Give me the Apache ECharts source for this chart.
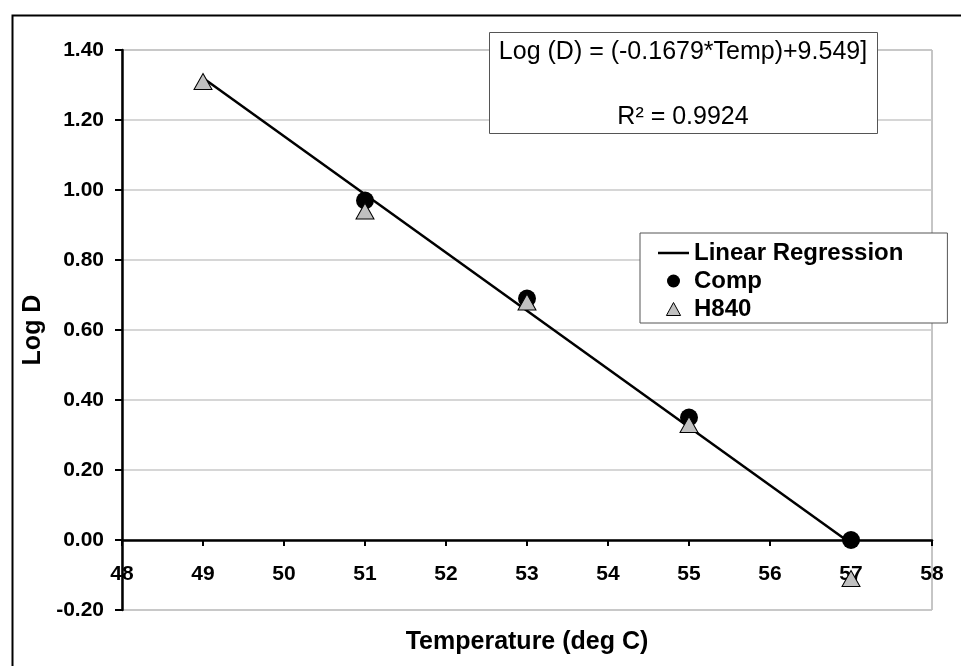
<!DOCTYPE html>
<html>
<head>
<meta charset="utf-8">
<script src="https://cdn.jsdelivr.net/npm/echarts@6/dist/echarts.min.js"></script>
<style>
html,body{margin:0;padding:0;background:#fff;}
#chart{width:961px;height:666px;}
</style>
</head>
<body>
<div id="chart"></div>
<script>
// ---- data ----
var regressionX = [49, 57];
var regressionY = [1.32, -0.01];
var compX = [51, 53, 55, 57];
var compY = [0.97, 0.69, 0.35, 0.00];
var h840X = [49, 51, 53, 55, 57];
var h840Y = [1.31, 0.94, 0.68, 0.33, -0.11];
var xMin = 48, xMax = 58, xStep = 1;
var yMin = -0.2, yMax = 1.4, yStep = 0.2;
var equationText = 'Log (D) = (-0.1679*Temp)+9.549]';
var r2Text = 'R² = 0.9924';
var xTitle = 'Temperature (deg C)';
var yTitle = 'Log D';
var seriesNames = ['Linear Regression', 'Comp', 'H840'];

function pairs(xs, ys){ return xs.map(function(x,i){ return [x, ys[i]]; }); }

var FONT = '"Liberation Sans", Arial, sans-serif';
var GRID_TOP = 50, GRID_BOTTOM = 56, H = 666;
var plotH = H - GRID_TOP - GRID_BOTTOM;
// offset that places the x axis (line, ticks, labels, name) at y = 0
var zeroOffset = -plotH * (0 - yMin) / (yMax - yMin);

var chart = echarts.init(document.getElementById('chart'));
chart.setOption({
  backgroundColor: '#fff',
  animation: false,
  grid: {left:122, right:29, top:GRID_TOP, bottom:GRID_BOTTOM, outerBoundsMode:'none', containLabel:false,
         show:true, borderColor:'#8c8c8c', borderWidth:1, backgroundColor:'#fff'},
  xAxis: {
    type:'value', min:xMin, max:xMax, interval:xStep,
    offset: zeroOffset,
    axisLine:{onZero:false, lineStyle:{color:'#000', width:2.5}},
    axisTick:{show:true, length:6, lineStyle:{color:'#000', width:2}},
    axisLabel:{margin:24, color:'#000', fontFamily:FONT, fontWeight:'bold', fontSize:21, showMinLabel:true, showMaxLabel:true},
    splitLine:{show:false},
    name:xTitle, nameLocation:'middle', nameGap:90,
    nameTextStyle:{color:'#000', fontFamily:FONT, fontWeight:'bold', fontSize:25}
  },
  yAxis: {
    type:'value', min:yMin, max:yMax, interval:yStep,
    axisLine:{show:true, onZero:false, lineStyle:{color:'#000', width:2.5}},
    axisTick:{show:true, length:7, lineStyle:{color:'#000', width:2}},
    axisLabel:{margin:18, color:'#000', fontFamily:FONT, fontWeight:'bold', fontSize:21,
      formatter:function(v){ return v.toFixed(2); }},
    splitLine:{show:true, lineStyle:{color:'#c8c8c8', width:1.5}},
    name:yTitle, nameLocation:'middle', nameGap:67, nameRotate:90,
    nameTextStyle:{color:'#000', fontFamily:FONT, fontWeight:'bold', fontSize:25}
  },
  legend: {
    orient:'vertical', left:640, top:233,
    padding:[8,44,2,18], itemGap:4,
    itemWidth:31, itemHeight:13, symbolKeepAspect:true,
    backgroundColor:'#fff', borderColor:'#555', borderWidth:1,
    textStyle:{color:'#000', fontFamily:FONT, fontWeight:'bold', fontSize:24},
    data:[
      {name:seriesNames[0], icon:'path://M0,0 L31,0 L31,2.5 L0,2.5 Z', itemStyle:{color:'#000'}},
      {name:seriesNames[1], icon:'circle'},
      {name:seriesNames[2], icon:'path://M6,0 L12,11 L0,11 Z', itemStyle:{color:'#c0c0c0', borderColor:'#000', borderWidth:1}}
    ]
  },
  series: [
    {name:seriesNames[0], type:'line', data:pairs(regressionX, regressionY), symbol:'none', showSymbol:false,
     lineStyle:{color:'#000', width:2.5}, itemStyle:{color:'#000'}, z:2},
    {name:seriesNames[1], type:'scatter', data:pairs(compX, compY), symbol:'circle', symbolSize:18,
     itemStyle:{color:'#000', opacity:1}, z:3},
    {name:seriesNames[2], type:'scatter', data:pairs(h840X, h840Y), symbol:'triangle', symbolSize:[18,16],
     itemStyle:{color:'#c0c0c0', borderColor:'#000', borderWidth:1, opacity:1}, z:4}
  ],
  graphic: [
    {type:'rect', left:10, top:13, shape:{width:1000, height:700}, style:{fill:'none', stroke:'#000', lineWidth:2}, z:0, silent:true},
    {type:'rect', left:489, top:32, z:100, shape:{width:388, height:101}, style:{fill:'#fff', stroke:'#555', lineWidth:1}},
    {type:'text', x:683, y:52, z:101, style:{text:equationText, fill:'#000', font:'25px ' + FONT, textAlign:'center', textVerticalAlign:'middle'}},
    {type:'text', x:683, y:117, z:101, style:{text:r2Text, fill:'#000', font:'25px ' + FONT, textAlign:'center', textVerticalAlign:'middle'}}
  ]
});
</script>
</body>
</html>
